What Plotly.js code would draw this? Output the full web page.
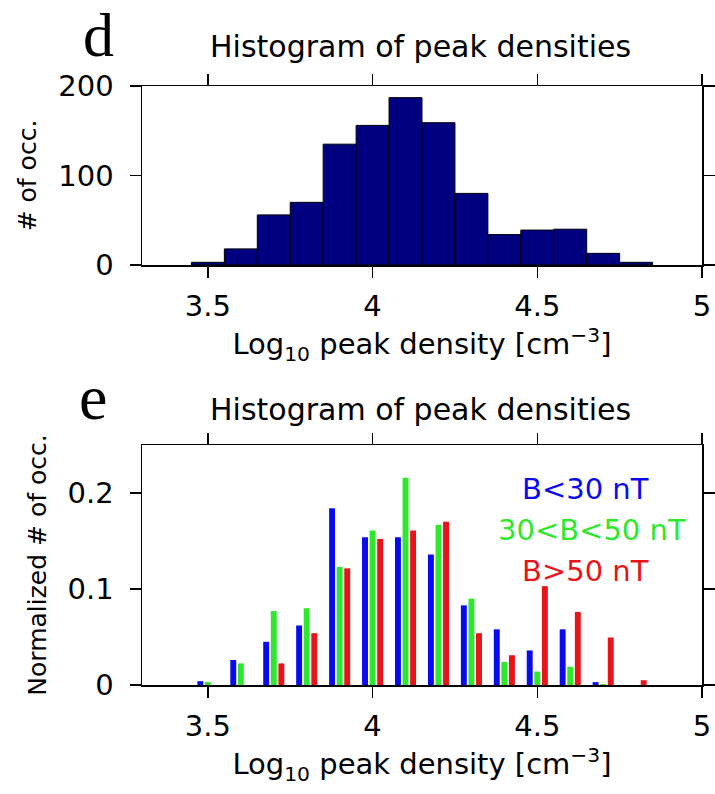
<!DOCTYPE html>
<html>
<head>
<meta charset="utf-8">
<script src="https://cdn.plot.ly/plotly-3.0.1.min.js"></script>
<style>html,body{margin:0;padding:0;background:#fff}#chart{width:715px;height:794px}</style>
</head>
<body>
<div id="chart"></div>
<script>
// ---- data ----
const binCenters = [3.5, 3.6, 3.7, 3.8, 3.9, 4.0, 4.1, 4.2, 4.3, 4.4, 4.5, 4.6, 4.7, 4.8];
const countsAll  = [3, 18, 56, 70, 135, 156, 187, 159, 80, 34, 39, 40, 13, 3];
const normLow    = [0.004, 0.026, 0.045, 0.062, 0.184, 0.154, 0.154, 0.136, 0.083, 0.058, 0.036, 0.058, 0.003, 0];
const normMid    = [0.003, 0.0225, 0.077, 0.080, 0.123, 0.161, 0.216, 0.167, 0.090, 0.024, 0.014, 0.019, 0.001, 0];
const normHigh   = [0, 0, 0.0225, 0.054, 0.1215, 0.152, 0.161, 0.170, 0.054, 0.031, 0.103, 0.076, 0.0495, 0.005];
const seriesNames = ['B<30 nT', '30<B<50 nT', 'B>50 nT'];
const xTickVals = [3.5, 4, 4.5, 5];
const xTickText = ['3.5', '4', '4.5', '5'];
const yTickVals1 = [0, 100, 200];
const yTickText1 = ['0', '100', '200'];
const yTickVals2 = [0, 0.1, 0.2];
const yTickText2 = ['0', '0.1', '0.2'];
const panelTitle = 'Histogram of peak densities';
const xTitle = 'Log<sub>10</sub> peak density [cm<sup>\u22123</sup>]';

const W = 715, H = 794;
const FONT = 'DejaVu Sans, sans-serif';
const colors = ['#0a0af0', '#2ee82e', '#e8141a'];

const traces = [
  {type: 'bar', x: binCenters, y: countsAll, width: 0.1, xaxis: 'x', yaxis: 'y',
   marker: {color: '#000080', line: {color: '#000000', width: 1}}, name: 'all', hoverinfo: 'x+y'},
  {type: 'bar', x: binCenters, y: normLow, width: 0.018, offset: -0.032, xaxis: 'x2', yaxis: 'y2',
   marker: {color: colors[0], line: {width: 0}}, name: seriesNames[0]},
  {type: 'bar', x: binCenters, y: normMid, width: 0.018, offset: -0.009, xaxis: 'x2', yaxis: 'y2',
   marker: {color: colors[1], line: {width: 0}}, name: seriesNames[1]},
  {type: 'bar', x: binCenters, y: normHigh, width: 0.018, offset: 0.014, xaxis: 'x2', yaxis: 'y2',
   marker: {color: colors[2], line: {width: 0}}, name: seriesNames[2]}
];

const xDom = [142 / W, 702 / W];
const axBase = {
  ticks: 'outside', ticklen: 11, tickwidth: 1.5, tickcolor: '#000',
  showline: true, linecolor: '#000', linewidth: 1.5, mirror: 'ticks',
  showgrid: false, zeroline: false, fixedrange: true,
  tickfont: {family: FONT, size: 29, color: '#000'}
};
function xax(anchor) {
  return Object.assign({}, axBase, {
    domain: xDom, anchor: anchor, range: [3.3, 5], tickmode: 'array',
    tickvals: xTickVals, ticktext: xTickText, ticklabelstandoff: 4,
    title: {text: xTitle, font: {family: FONT, size: 29, color: '#000'}, standoff: 4}
  });
}
function yax(anchor, dom, rng, tv, tt, title) {
  return Object.assign({}, axBase, {
    domain: dom, anchor: anchor, range: rng, tickmode: 'array',
    tickvals: tv, ticktext: tt, ticklabelstandoff: 10,
    title: {text: title, font: {family: FONT, size: 25, color: '#000'}, standoff: 14}
  });
}

const layout = {
  width: W, height: H,
  margin: {l: 0, r: 0, t: 0, b: 0},
  paper_bgcolor: '#fff', plot_bgcolor: '#fff',
  showlegend: false, barmode: 'overlay',
  xaxis: xax('y'),
  yaxis: yax('x', [1 - 265 / H, 1 - 86 / H], [0, 200], yTickVals1, yTickText1, '# of occ.'),
  xaxis2: xax('y2'),
  yaxis2: yax('x2', [1 - 685 / H, 1 - 445 / H], [0, 0.25], yTickVals2, yTickText2, 'Normalized # of occ.'),
  annotations: [
    {text: 'd', xref: 'paper', yref: 'paper', x: 98 / W, y: 1 - 35 / H, xanchor: 'center', yanchor: 'middle',
     showarrow: false, font: {family: 'Liberation Serif, serif', size: 62, color: '#000'}},
    {text: 'e', xref: 'paper', yref: 'paper', x: 93 / W, y: 1 - 397 / H, xanchor: 'center', yanchor: 'middle',
     showarrow: false, font: {family: 'Liberation Serif, serif', size: 64, color: '#000'}},
    {text: panelTitle, xref: 'paper', yref: 'paper', x: 420 / W, y: 1 - 46 / H, xanchor: 'center', yanchor: 'middle',
     showarrow: false, font: {family: FONT, size: 30, color: '#000'}},
    {text: panelTitle, xref: 'paper', yref: 'paper', x: 420 / W, y: 1 - 410 / H, xanchor: 'center', yanchor: 'middle',
     showarrow: false, font: {family: FONT, size: 30, color: '#000'}},
    {text: seriesNames[0], xref: 'paper', yref: 'paper', x: 585 / W, y: 1 - 489 / H, xanchor: 'center', yanchor: 'middle',
     showarrow: false, font: {family: FONT, size: 29, color: colors[0]}},
    {text: seriesNames[1], xref: 'paper', yref: 'paper', x: 592 / W, y: 1 - 530 / H, xanchor: 'center', yanchor: 'middle',
     showarrow: false, font: {family: FONT, size: 29, color: colors[1]}},
    {text: seriesNames[2], xref: 'paper', yref: 'paper', x: 585 / W, y: 1 - 571 / H, xanchor: 'center', yanchor: 'middle',
     showarrow: false, font: {family: FONT, size: 29, color: colors[2]}}
  ]
};

Plotly.newPlot('chart', traces, layout, {displayModeBar: false, staticPlot: true});
</script>
</body>
</html>
